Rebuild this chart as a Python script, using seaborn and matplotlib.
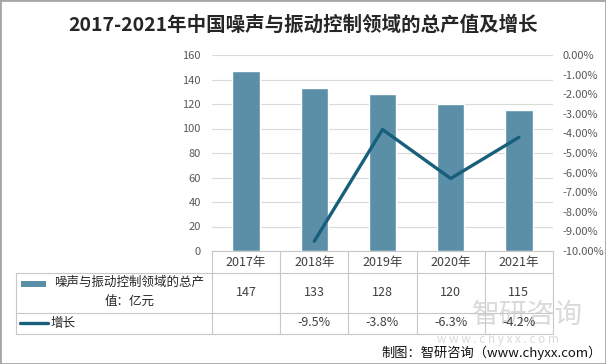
import numpy as np
import matplotlib
matplotlib.use('Agg')
import matplotlib.pyplot as plt
import matplotlib.transforms as mtransforms
from matplotlib.lines import Line2D
from matplotlib.patches import Rectangle
from matplotlib.ticker import FuncFormatter
import seaborn as sns

# data
years = ['2017年', '2018年', '2019年', '2020年', '2021年']
output_value = [147, 133, 128, 120, 115]          # 亿元
growth = [np.nan, -9.5, -3.8, -6.3, -4.2]          # %

bar_label = '噪声与振动控制领域的总产'
bar_label2 = '值：亿元'
line_label = '增长'
title = '2017-2021年中国噪声与振动控制领域的总产值及增长'
source = '制图：智研咨询（www.chyxx.com）'

bar_color = '#5b8fa8'
line_color = '#185f7b'
grid_color = '#d9d9d9'
table_color = '#c8c8c8'

sns.set_style('white')
plt.rcParams['font.family'] = ['Noto Sans CJK SC', 'DejaVu Sans']
plt.rcParams['axes.unicode_minus'] = False

W, H = 606, 364
fig = plt.figure(figsize=(W / 100, H / 100), dpi=100)


def fx(px):
    return px / W


def fy(py):
    return 1 - py / H


ax = fig.add_axes([fx(212), fy(251), fx(553) - fx(212), fy(55) - fy(251)])

sns.barplot(x=years, y=output_value, color=bar_color, width=0.4,
            saturation=1, ax=ax, zorder=2)
ax.set_ylim(0, 160)
ax.set_yticks(range(0, 161, 20))
ax.set_xlim(-0.5, len(years) - 0.5)
ax.yaxis.grid(True, color=grid_color, linewidth=0.8, zorder=0)
ax.set_axisbelow(True)
for s in ['left', 'right', 'top']:
    ax.spines[s].set_visible(False)
ax.spines['bottom'].set_color(table_color)
ax.spines['bottom'].set_linewidth(0.8)
ax.tick_params(axis='y', length=0, pad=8, labelsize=8, labelcolor='#595959')
ax.tick_params(axis='x', length=0, pad=3.5, labelsize=9, labelcolor='#404040')
ax.set_xlabel('')
ax.set_ylabel('')

ax2 = ax.twinx()
sns.lineplot(x=np.arange(len(years)), y=growth, ax=ax2, color=line_color,
             linewidth=2.4)
ax2.set_ylim(-10, 0)
ax2.set_yticks(np.arange(-10, 0.5, 1))
ax2.yaxis.set_major_formatter(FuncFormatter(lambda v, p: '%.2f%%' % v if abs(v) > 1e-9 else '0.00%'))
for s in ax2.spines.values():
    s.set_visible(False)
ax2.tick_params(axis='y', length=0, pad=7, labelsize=8, labelcolor='#595959')
ax2.set_ylabel('')
ax2.set_xlim(ax.get_xlim())

# table under the chart
blend = mtransforms.blended_transform_factory(ax.transData, fig.transFigure)
x_right = ax.get_position().x1
for yy in [273, 313, 334]:
    fig.add_artist(Line2D([fx(16), x_right], [fy(yy), fy(yy)], color=table_color,
                          linewidth=0.8, transform=fig.transFigure))
fig.add_artist(Line2D([fx(16), fx(16)], [fy(273), fy(334)], color=table_color,
                      linewidth=0.8, transform=fig.transFigure))
for i in range(len(years) + 1):
    fig.add_artist(Line2D([i - 0.5, i - 0.5], [fy(251), fy(334)], color=table_color,
                          linewidth=0.8, transform=blend))

# watermark (drawn first so the table text sits on top)
fig.text(fx(472), fy(315), '智研咨询', ha='left', va='center', fontsize=20,
         color='#dadada', zorder=0)
fig.text(fx(437), fy(339), 'w w w . c h y x x . c o m', ha='left', va='center',
         fontsize=8.5, color='#dadada', zorder=0)

for i, v in enumerate(output_value):
    fig.text(i, fy(293), str(v), transform=blend, ha='center', va='center',
             fontsize=9, color='#404040')
for i, g in enumerate(growth):
    if not np.isnan(g):
        fig.text(i, fy(323), '%.1f%%' % g, transform=blend, ha='center', va='center',
                 fontsize=9, color='#404040')

# legend cells
fig.add_artist(Rectangle((fx(21), fy(287)), fx(46) - fx(21), fy(281) - fy(287),
                         facecolor=bar_color, edgecolor='none', transform=fig.transFigure))
fig.text(fx(129.5), fy(282), bar_label, ha='center', va='center', fontsize=9, color='#262626')
fig.text(fx(129.5), fy(301), bar_label2, ha='center', va='center', fontsize=9, color='#262626')
fig.add_artist(Line2D([fx(20), fx(48)], [fy(323), fy(323)], color=line_color,
                      linewidth=2.4, transform=fig.transFigure))
fig.text(fx(51), fy(323), line_label, ha='left', va='center', fontsize=9, color='#262626')

fig.text(0.5, fy(25), title, ha='center', va='center', fontsize=14,
         fontweight='bold', color='#262626')
fig.text(fx(602), fy(353), source, ha='right', va='center', fontsize=9.5, color='#111111')

fig.add_artist(Rectangle((0, 0), 1, 1, fill=False, edgecolor='#a6a6a6', linewidth=2,
                         transform=fig.transFigure))

fig.savefig('out.png', dpi=100)
